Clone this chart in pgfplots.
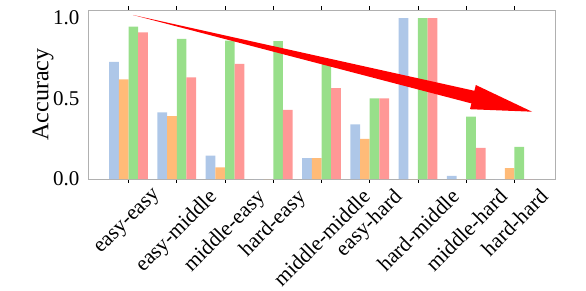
\documentclass[border=0pt]{standalone}
\usepackage{fontspec}
\setmainfont{Liberation Serif}
\usepackage{graphicx}
\usepackage{pgfplots}
\pgfplotsset{compat=1.18}
\definecolor{cblue}{HTML}{AEC7E8}
\definecolor{corange}{HTML}{FFBB78}
\definecolor{cgreen}{HTML}{98DF8A}
\definecolor{cred}{HTML}{FF9896}
\definecolor{spine}{HTML}{B0B0B0}
\newcommand{\rl}[1]{\rotatebox{45}{\fontsize{21.5}{25}\selectfont #1}}
\begin{document}
\begin{tikzpicture}
\path[use as bounding box] (0pt,0pt) rectangle (586pt,290pt);
\begin{axis}[
  at={(88pt,111pt)}, anchor=south west,
  scale only axis, width=467pt, height=169pt,
  xmin=-0.84, xmax=8.84, ymin=0, ymax=1.05,
  ybar, bar width=0.2,
  xtick={0,...,8},
  xticklabels={\rl{easy-easy},\rl{easy-middle},\rl{middle-easy},\rl{hard-easy},\rl{middle-middle},\rl{easy-hard},\rl{hard-middle},\rl{middle-hard},\rl{hard-hard}},
  xticklabel style={anchor=north, inner sep=0pt, yshift=-5pt},
  ytick={0,0.5,1},
  yticklabels={\textrm{0.0},\textrm{0.5},\textrm{1.0}},
  yticklabel style={font=\fontsize{21}{25}\selectfont, inner sep=0pt, xshift=-5pt},
  /pgf/number format/assume math mode=true,
  ytick style={draw=none},
  xtick style={black, line width=0.6pt},
  major tick length=3.5pt,
  tick align=outside,
  axis line style={draw=spine, line width=0.9pt},
  ylabel={\fontsize{24}{28}\selectfont Accuracy},
  ylabel style={at={(axis description cs:-0.0964,0.5)}, anchor=center},
]
\addplot[fill=cblue, draw=none, bar shift=-0.3] coordinates {(0,0.727) (1,0.414) (2,0.145) (3,0) (4,0.130) (5,0.34) (6,1.0) (7,0.02) (8,0)};
\addplot[fill=corange, draw=none, bar shift=-0.1] coordinates {(0,0.619) (1,0.391) (2,0.072) (3,0) (4,0.130) (5,0.25) (6,0) (7,0) (8,0.068)};
\addplot[fill=cgreen, draw=none, bar shift=0.1] coordinates {(0,0.946) (1,0.870) (2,0.859) (3,0.857) (4,0.72) (5,0.501) (6,1.0) (7,0.387) (8,0.2)};
\addplot[fill=cred, draw=none, bar shift=0.3] coordinates {(0,0.911) (1,0.632) (2,0.716) (3,0.429) (4,0.565) (5,0.501) (6,1.0) (7,0.194) (8,0)};
\end{axis}
\fill[red] (133pt,275pt) -- (474.4pt,199.2pt) -- (475.8pt,205.0pt) -- (532pt,178.3pt) -- (470.0pt,180.8pt) -- (471.4pt,186.6pt) -- cycle;
\end{tikzpicture}
\end{document}
